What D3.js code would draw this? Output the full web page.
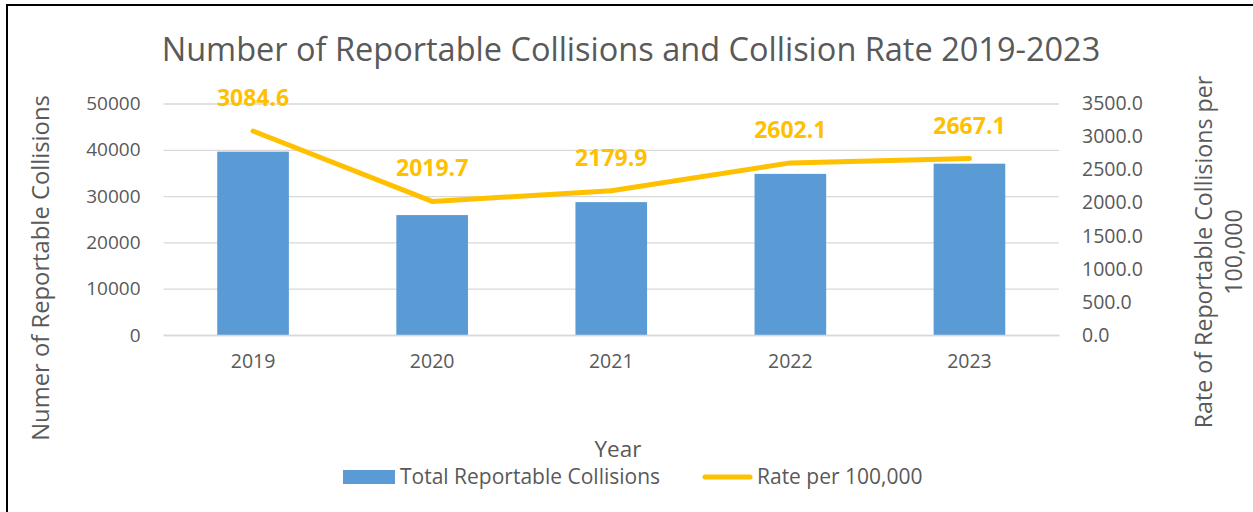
<!DOCTYPE html>
<html>
<head>
<meta charset="utf-8">
<script src="https://cdn.jsdelivr.net/npm/d3@7"></script>
<style>
  body { margin: 0; background: #fff; }
  text { font-family: 'Open Sans', Lato, sans-serif; fill: #595959; }
</style>
</head>
<body>
<svg id="chart" width="1253" height="512"></svg>
<script>
// chart data
var years = ['2019', '2020', '2021', '2022', '2023']
var collisions = [39600, 25900, 28700, 34800, 37000]
var rates = [3084.6, 2019.7, 2179.9, 2602.1, 2667.1]
var leftTicks = [0, 10000, 20000, 30000, 40000, 50000]
var rightTicks = [0, 500, 1000, 1500, 2000, 2500, 3000, 3500]

var svg = d3.select('#chart')

// frame
svg.append('rect')
  .attr('x', 7)
  .attr('y', 5)
  .attr('width', 1300)
  .attr('height', 600)
  .attr('fill', 'none')
  .attr('stroke', '#000')
  .attr('stroke-width', 2)

const plotLeft = 163.5
const plotRight = 1059
const plotTop = 103.5
const plotBottom = 335

const x = d3.scaleBand()
  .domain(years)
  .range([plotLeft, plotRight])
  .paddingInner(0.6)
  .paddingOuter(0.3)

// center of each band is what matters
const xc = d => x(d) + x.bandwidth() / 2

const yL = d3.scaleLinear().domain([0, 50000]).range([plotBottom, plotTop])
const yR = d3.scaleLinear().domain([0, 3500]).range([plotBottom, plotTop])

// gridlines
svg.append('g')
  .attr('transform', `translate(${plotLeft}, 0)`)
  .call(d3.axisLeft(yL).tickValues(leftTicks).tickSize(-(plotRight - plotLeft)).tickFormat(''))
  .call(g => g.select('.domain').remove())
  .call(g => g.selectAll('line').attr('stroke', '#D9D9D9').attr('stroke-width', 1.3))

// left tick labels
svg.append('g')
  .attr('transform', `translate(${plotLeft}, 0)`)
  .call(d3.axisLeft(yL).tickValues(leftTicks).tickSize(0).tickPadding(23).tickFormat(d3.format('d')))
  .call(g => g.select('.domain').remove())
  .call(g => g.selectAll('text').style('font-size', '19px').attr('fill', '#595959'))

// right tick labels
svg.append('g')
  .attr('transform', `translate(${plotRight}, 0)`)
  .call(d3.axisRight(yR).tickValues(rightTicks).tickSize(0).tickPadding(23).tickFormat(d3.format('.1f')))
  .call(g => g.select('.domain').remove())
  .call(g => g.selectAll('text').style('font-size', '19.5px').attr('fill', '#595959'))

// bars
svg.selectAll('.bar')
  .data(years)
  .enter()
  .append('rect')
  .attr('class', 'bar')
  .attr('x', d => x(d))
  .attr('y', (d, i) => yL(collisions[i]))
  .attr('width', x.bandwidth())
  .attr('height', (d, i) => plotBottom - yL(collisions[i]))
  .attr('fill', '#5B9BD5')

// x labels
svg.append('g')
  .attr('transform', `translate(0, ${plotBottom})`)
  .call(d3.axisBottom(x).tickSize(0).tickPadding(19))
  .call(g => g.select('.domain').attr('stroke', '#D9D9D9').attr('stroke-width', 1.3))
  .call(g => g.selectAll('text').style('font-size', '19.5px').attr('fill', '#595959'))

// rate line
var line = d3.line()
  .x((d, i) => xc(years[i]))
  .y(d => yR(d))

svg.append('path')
  .datum(rates)
  .attr('d', line)
  .attr('fill', 'none')
  .attr('stroke', '#FFC000')
  .attr('stroke-width', 5)
  .attr('stroke-linecap', 'round')
  .attr('stroke-linejoin', 'round')

// rate labels
svg.selectAll('.rlabel')
  .data(rates)
  .enter()
  .append('text')
  .attr('class', 'rlabel')
  .attr('x', (d, i) => xc(years[i]))
  .attr('y', d => yR(d) - 25)
  .attr('text-anchor', 'middle')
  .style('font-size', '23px')
  .style('font-weight', 'bold')
  .style('fill', '#FFC000')
  .text(d => d.toFixed(1))

// title
svg.append('text')
  .attr('x', 631)
  .attr('y', 61)
  .attr('text-anchor', 'middle')
  .style('font-size', '32.5px')
  .text('Number of Reportable Collisions and Collision Rate 2019-2023')

// axis titles
svg.append('text')
  .attr('transform', 'translate(49, 268) rotate(-90)')
  .attr('text-anchor', 'middle')
  .style('font-size', '23.8px')
  .text('Numer of Reportable Collisions')

svg.append('text')
  .attr('transform', 'translate(1212, 252) rotate(-90)')
  .attr('text-anchor', 'middle')
  .style('font-size', '23.2px')
  .text('Rate of Reportable Collisions per')

svg.append('text')
  .attr('transform', 'translate(1242, 252) rotate(-90)')
  .attr('text-anchor', 'middle')
  .style('font-size', '23.2px')
  .text('100,000')

svg.append('text')
  .attr('x', 618)
  .attr('y', 457)
  .attr('text-anchor', 'middle')
  .style('font-size', '22.5px')
  .text('Year')

// legend
svg.append('rect')
  .attr('x', 343)
  .attr('y', 470)
  .attr('width', 52)
  .attr('height', 14)
  .attr('fill', '#5B9BD5')

svg.append('text')
  .attr('x', 400)
  .attr('y', 484)
  .style('font-size', '21px')
  .text('Total Reportable Collisions')

svg.append('line')
  .attr('x1', 705)
  .attr('x2', 750)
  .attr('y1', 477)
  .attr('y2', 477)
  .attr('stroke', '#FFC000')
  .attr('stroke-width', 5)
  .attr('stroke-linecap', 'round')

svg.append('text')
  .attr('x', 757)
  .attr('y', 484)
  .style('font-size', '21px')
  .text('Rate per 100,000')
</script>
</body>
</html>
